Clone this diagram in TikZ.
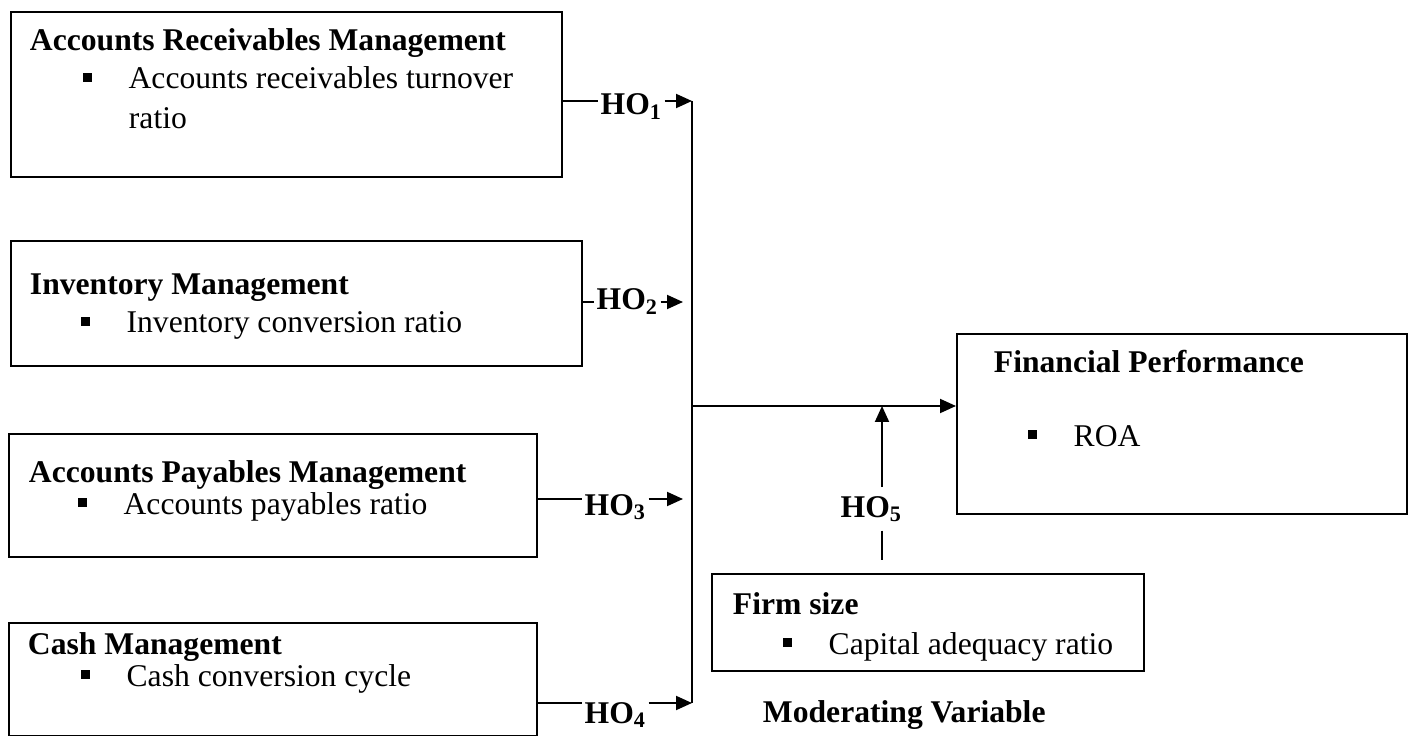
\documentclass[tikz,border=0pt]{standalone}
\usepackage{fontspec}
\setmainfont{Liberation Serif}
\usetikzlibrary{arrows.meta}

\newcommand{\itembul}{\makebox[26pt][l]{\raisebox{4.2pt}{\rule{5.1pt}{5.1pt}}}}

\begin{document}
\begin{tikzpicture}[
    x = 0.02cm, y = -0.02cm,
    >={Triangle[length=0.32cm, width=0.28cm]},
    line width = 1.1pt,
    box/.style = {draw, rectangle, inner sep=0pt, anchor=north west},
    txt/.style = {anchor=base west, inner sep=0pt, font=\fontsize{18}{22}\selectfont},
    head/.style = {txt, font=\fontsize{18}{22}\selectfont\bfseries},
    hyp/.style = {anchor=base west, inner xsep=1pt, inner ysep=4.5pt, font=\fontsize{18}{22}\selectfont\bfseries}]

\useasboundingbox (0,0) rectangle (1413,736);

% Independent variables
\node[box, minimum width=11.02cm, minimum height=3.30cm] (recv) at (10,11) {};
\node[head] (recvT) at (29,51) {Accounts Receivables Management};
\node[txt] (recvA) at (82,89) {\itembul Accounts receivables turnover};
\node[txt] (recvB) at (128,129) {ratio};

\node[box, minimum width=11.42cm, minimum height=2.50cm] (inv) at (10,240) {};
\node[head] (invT) at (29,295) {Inventory Management};
\node[txt] (invA) at (80,333) {\itembul Inventory conversion ratio};

\node[box, minimum width=10.56cm, minimum height=2.46cm] (pay) at (8,433) {};
\node[head] (payT) at (28,482) {Accounts Payables Management};
\node[txt] (payA) at (77,514) {\itembul Accounts payables ratio};

\node[box, minimum width=10.56cm, minimum height=2.26cm] (cash) at (8,622) {};
\node[head] (cashT) at (27,654) {Cash Management};
\node[txt] (cashA) at (80,686) {\itembul Cash conversion cycle};

% Dependent variable
\node[box, minimum width=9.00cm, minimum height=3.60cm] (perf) at (956,333) {};
\node[head] (perfT) at (993,373) {Financial Performance};
\node[txt] (perfA) at (1027,446) {\itembul ROA};

% Moderating variable
\node[box, minimum width=8.64cm, minimum height=1.94cm] (firm) at (711,573) {};
\node[head] (firmT) at (732,614) {Firm size};
\node[txt] (firmA) at (782,654) {\itembul Capital adequacy ratio};
\node[head] (modT) at (762,722) {Moderating Variable};

% Hypotheses
\coordinate (j1) at (692,101);
\coordinate (j2) at (692,302);
\coordinate (j3) at (692,499);
\coordinate (j4) at (692,703);
\coordinate (mid) at (692,406);
\coordinate (m5) at (882,406);

\node[hyp] (ho1) at (598,115) {HO\textsubscript{1}};
\node[hyp] (ho2) at (594,310) {HO\textsubscript{2}};
\node[hyp] (ho3) at (582,515) {HO\textsubscript{3}};
\node[hyp] (ho4) at (582,723) {HO\textsubscript{4}};
\node[hyp] (ho5) at (838,517) {HO\textsubscript{5}};

\draw (recv.east |- j1) -- (ho1.west |- j1);
\draw[->] (ho1.east |- j1) -- (j1);
\draw (inv.east |- j2) -- (ho2.west |- j2);
\draw[->, shorten >=0.18cm] (ho2.east |- j2) -- (j2);
\draw (pay.east |- j3) -- (ho3.west |- j3);
\draw[->, shorten >=0.18cm] (ho3.east |- j3) -- (j3);
\draw (cash.east |- j4) -- (ho4.west |- j4);
\draw[->] (ho4.east |- j4) -- (j4);

\draw (j1) -- (j4);
\draw[->] (mid) -- (mid -| perf.west);

\draw[->] (ho5.north -| m5) -- (m5);
\draw[shorten >=0.26cm] (ho5.south -| m5) -- (firm.north -| m5);

\end{tikzpicture}
\end{document}
